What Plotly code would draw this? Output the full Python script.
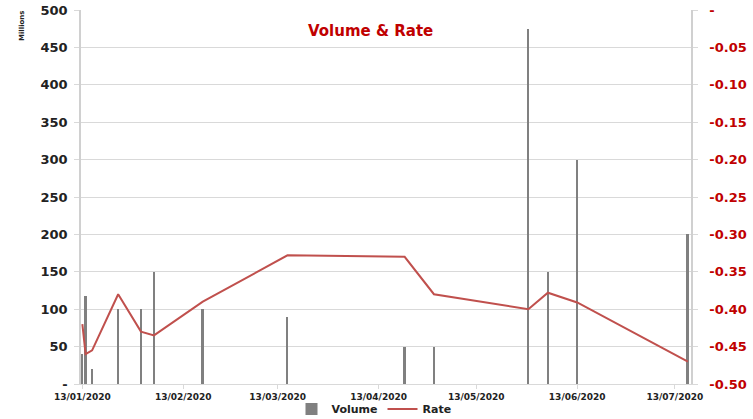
import plotly.graph_objects as go

dates = ["2020-01-13", "2020-01-14", "2020-01-16", "2020-01-24", "2020-01-31",
         "2020-02-04", "2020-02-19", "2020-03-16", "2020-04-21", "2020-04-30",
         "2020-05-29", "2020-06-04", "2020-06-13", "2020-07-17"]
volume_millions = [40, 118, 20, 100, 100, 150, 100, 90, 50, 50, 475, 150, 300, 200]
rate = [-0.42, -0.46, -0.455, -0.38, -0.43, -0.435, -0.39, -0.328, -0.33, -0.38,
        -0.40, -0.378, -0.391, -0.47]

x_tick_dates = ["2020-01-13", "2020-02-13", "2020-03-13", "2020-04-13",
                "2020-05-13", "2020-06-13", "2020-07-13"]
x_tick_labels = ["13/01/2020", "13/02/2020", "13/03/2020", "13/04/2020",
                 "13/05/2020", "13/06/2020", "13/07/2020"]
left_ticks = [0, 50, 100, 150, 200, 250, 300, 350, 400, 450, 500]
left_labels = ["-", "50", "100", "150", "200", "250", "300", "350", "400", "450", "500"]
right_ticks = [0, -0.05, -0.10, -0.15, -0.20, -0.25, -0.30, -0.35, -0.40, -0.45, -0.50]
right_labels = ["-", "-0.05", "-0.10", "-0.15", "-0.20", "-0.25", "-0.30", "-0.35",
                "-0.40", "-0.45", "-0.50"]

FONT = "DejaVu Sans"
DAY_MS = 86400000
PLOT_L, PLOT_R, PLOT_T, PLOT_B = 81, 691, 10, 384
PW, PH = PLOT_R - PLOT_L, PLOT_B - PLOT_T

fig = go.Figure()
fig.add_trace(go.Bar(
    x=dates, y=volume_millions, name="Volume",
    marker=dict(color="#808080", line=dict(width=0)),
    width=[0.55 * DAY_MS] * len(dates),
    yaxis="y",
))
fig.add_trace(go.Scatter(
    x=dates, y=rate, name="Rate", mode="lines",
    line=dict(color="#C0504D", width=2),
    yaxis="y2",
))

fig.update_layout(
    width=753, height=419,
    margin=dict(l=PLOT_L, r=753 - PLOT_R, t=PLOT_T, b=419 - PLOT_B, autoexpand=False),
    paper_bgcolor="white", plot_bgcolor="white",
    font=dict(family=FONT, color="black"),
    showlegend=True,
    legend=dict(
        orientation="h", xref="paper", yref="paper",
        x=(374 - PLOT_L) / PW, y=(PLOT_B - 409) / PH, xanchor="center", yanchor="middle",
        font=dict(family=FONT, size=11, color="#222222", weight="bold"),
        bgcolor="rgba(0,0,0,0)",
        itemwidth=30, tracegroupgap=0,
    ),
    xaxis=dict(
        type="date", automargin=False,
        range=["2020-01-12 14:00", "2020-07-17 23:00"],
        tickvals=x_tick_dates, ticktext=x_tick_labels,
        tickfont=dict(family=FONT, size=9, color="#222222", weight="bold"),
        showgrid=False, showline=True, linecolor="#D9D9D9", linewidth=1,
        ticks="outside", ticklen=4, tickcolor="#D9D9D9",
        zeroline=False,
    ),
    yaxis=dict(
        range=[0, 500], tickvals=left_ticks, ticktext=left_labels, automargin=False,
        tickfont=dict(family=FONT, size=13, color="#222222", weight="bold"),
        showgrid=True, gridcolor="#D9D9D9", gridwidth=1,
        showline=True, linecolor="#D0D0D0", linewidth=1.5,
        ticks="outside", ticklen=5, tickcolor="#D9D9D9",
        ticklabelstandoff=4,
        zeroline=False,
    ),
    yaxis2=dict(
        range=[-0.5, 0], overlaying="y", side="right", automargin=False,
        tickvals=right_ticks, ticktext=right_labels,
        tickfont=dict(family=FONT, size=13, color="#C00000", weight="bold"),
        showgrid=False,
        showline=True, linecolor="#D0D0D0", linewidth=1.5,
        ticks="outside", ticklen=5, tickcolor="#D9D9D9",
        ticklabelstandoff=9,
        zeroline=False,
    ),
    bargap=0,
)

fig.add_annotation(
    text="Volume & Rate", xref="paper", yref="paper",
    x=(370 - PLOT_L) / PW, y=(PLOT_B - 31) / PH, xanchor="center", yanchor="middle",
    showarrow=False,
    font=dict(family=FONT, size=15, color="#C00000", weight="bold"),
)
fig.add_annotation(
    text="Millions", xref="paper", yref="paper",
    x=(22 - PLOT_L) / PW, y=(PLOT_B - 26) / PH, xanchor="center", yanchor="middle",
    textangle=-90, showarrow=False,
    font=dict(family=FONT, size=7, color="#222222", weight="bold"),
)

fig.write_html("out.html", config={"displayModeBar": False},
               post_script="document.body.style.margin='0';")
